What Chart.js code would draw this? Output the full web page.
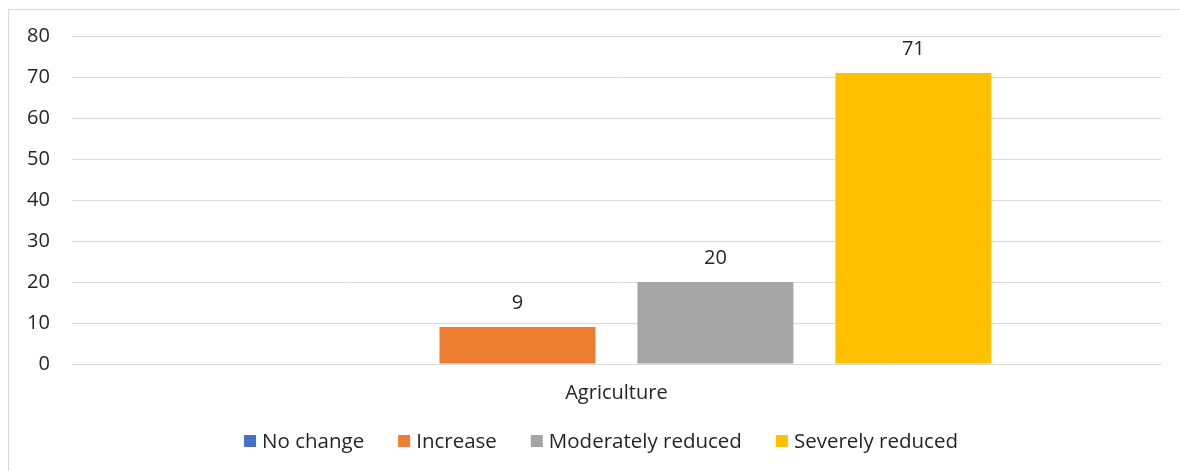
<!DOCTYPE html>
<html>
<head>
<meta charset="utf-8">
<script src="https://cdn.jsdelivr.net/npm/chart.js@4"></script>
<style>
  body { margin: 0; background: #fff; }
  #frame {
    position: absolute; left: 8px; top: 9px;
    width: 1200px; height: 500px;
    border: 1px solid #d9d9d9;
  }
  #wrap { position: absolute; left: 0; top: 0; width: 1180px; height: 471px; }
</style>
</head>
<body>
<div id="frame"></div>
<div id="wrap"><canvas id="bar-chart" width="1180" height="471"></canvas></div>
<script>
var categories = ["Agriculture"];
var seriesNames = ["No change", "Increase", "Moderately reduced", "Severely reduced"];
var seriesValues = [[0], [9], [20], [71]];
var seriesColors = ["#4472C4", "#ED7D31", "#A5A5A5", "#FFC000"];
var yTicks = [0, 10, 20, 30, 40, 50, 60, 70, 80];

var textColor = '#262626';
var fontFamily = '"Open Sans"';

// value labels above each bar (zero bars are left unlabeled)
var valueLabels = {
    id: 'valueLabels',
    afterDatasetsDraw: function (chart) {
        var ctx = chart.ctx;
        ctx.save();
        ctx.font = '20px ' + fontFamily;
        ctx.fillStyle = textColor;
        ctx.textAlign = 'center';
        ctx.textBaseline = 'middle';
        chart.data.datasets.forEach(function (ds, i) {
            chart.getDatasetMeta(i).data.forEach(function (bar, j) {
                var v = ds.data[j];
                if (!v) return;
                ctx.fillText(String(v), bar.x, bar.y - 24);
            });
        });
        ctx.restore();
    }
};

// legend row under the axis: square swatch, small gap, label, wide gap
var bottomLegend = {
    id: 'bottomLegend',
    afterDraw: function (chart) {
        var ctx = chart.ctx;
        var box = 12, gap = 6, spacing = 34, y = 441, centerX = 601;
        ctx.save();
        ctx.font = '20.5px ' + fontFamily;
        ctx.textBaseline = 'middle';
        ctx.textAlign = 'left';
        var items = chart.data.datasets.map(function (ds) {
            return { text: ds.label, color: ds.backgroundColor, w: ctx.measureText(ds.label).width };
        });
        var total = items.reduce(function (s, it) { return s + box + gap + it.w; }, 0) + spacing * (items.length - 1);
        var x = centerX - total / 2;
        items.forEach(function (it) {
            ctx.fillStyle = it.color;
            ctx.fillRect(x, y - box / 2, box, box);
            ctx.fillStyle = textColor;
            ctx.fillText(it.text, x + box + gap, y + 1);
            x += box + gap + it.w + spacing;
        });
        ctx.restore();
    }
};

new Chart(document.getElementById("bar-chart"), {
    type: 'bar',
    data: {
        labels: categories,
        datasets: seriesNames.map(function (name, i) {
            return {
                label: name,
                data: seriesValues[i],
                backgroundColor: seriesColors[i],
                categoryPercentage: 0.727,
                barPercentage: 0.788
            };
        })
    },
    options: {
        responsive: false,
        animation: false,
        layout: { padding: { left: 5, right: 19, top: 36, bottom: 57 } },
        plugins: {
            tooltip: { enabled: false },
            legend: { display: false }
        },
        scales: {
            x: {
                grid: { display: false },
                border: { display: false },
                ticks: { color: textColor, font: { family: fontFamily, size: 20 }, padding: 9 }
            },
            y: {
                min: 0,
                max: 80,
                afterBuildTicks: function (axis) {
                    axis.ticks = yTicks.map(function (v) { return { value: v }; });
                },
                grid: { color: '#d9d9d9', lineWidth: 1, drawTicks: false },
                border: { display: false },
                ticks: { color: textColor, font: { family: fontFamily, size: 20 }, padding: 22 }
            }
        }
    },
    plugins: [valueLabels, bottomLegend]
});
</script>
</body>
</html>
